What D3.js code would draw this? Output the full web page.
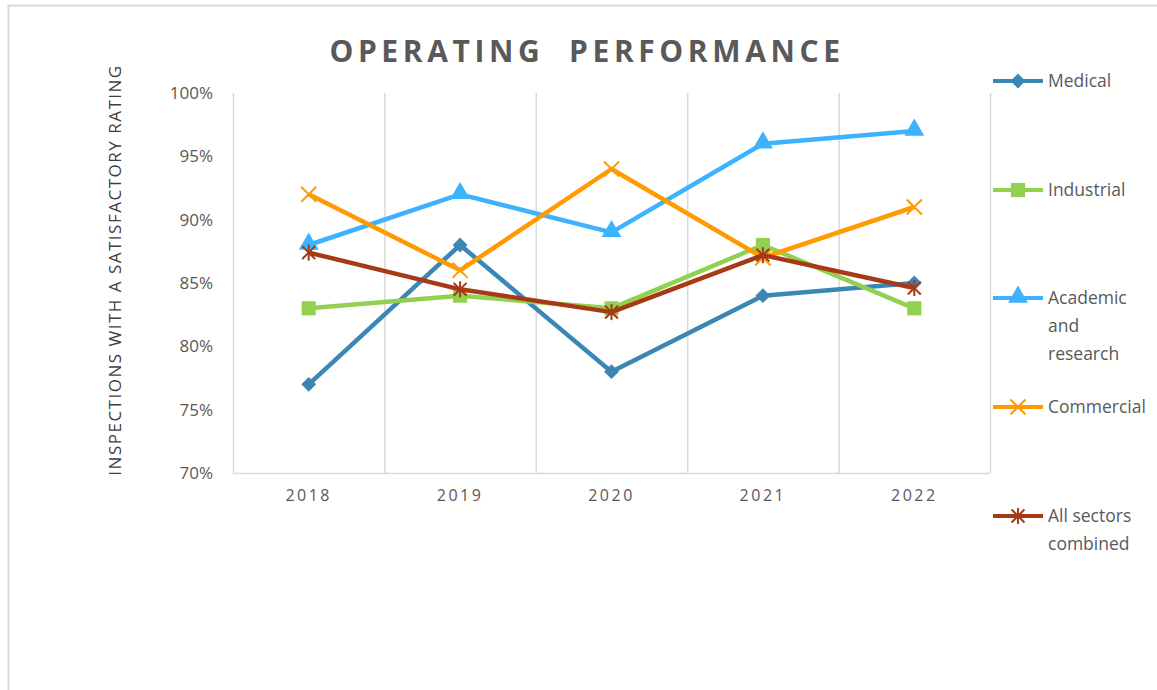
<!DOCTYPE html>
<html>
<head>
<meta charset="utf-8">
<script src="https://cdn.jsdelivr.net/npm/d3@7"></script>
<style>
  body { margin: 0; background: #fff; }
  svg { display: block; font-family: "Open Sans", "Liberation Sans", sans-serif; }
</style>
</head>
<body>
<svg id="chart" width="1157" height="690"></svg>
<script>
// chart data
var years = ["2018", "2019", "2020", "2021", "2022"];
var medical = [77, 88, 78, 84, 85];
var industrial = [83, 84, 83, 88, 83];
var academic = [88, 92, 89, 96, 97];
var commercial = [92, 86, 94, 87, 91];
var allSectors = [87.4, 84.5, 82.7, 87.2, 84.6];
var yTicks = [70, 75, 80, 85, 90, 95, 100];

var series = [
  {name: ["Medical"], values: medical, color: "#3a87b5", marker: "diamond", ly: 81},
  {name: ["Industrial"], values: industrial, color: "#92d050", marker: "square", ly: 190},
  {name: ["Academic", "and", "research"], values: academic, color: "#3db2ff", marker: "triangle", ly: 298},
  {name: ["Commercial"], values: commercial, color: "#ff9a00", marker: "x", ly: 407},
  {name: ["All sectors", "combined"], values: allSectors, color: "#a63a17", marker: "star", ly: 516}
];

var chart = d3.select("#chart");
// plot area edges (note: "top" is taken by window.top, so use other names)
var plotLeft = 233, plotRight = 990, plotTop = 93, plotBottom = 473;

// outer frame
chart.append("rect")
  .attr("x", 8.5).attr("y", 5.5)
  .attr("width", 1160).attr("height", 700)
  .attr("fill", "none").attr("stroke", "#d9d9d9").attr("stroke-width", 2);

var x = d3.scaleBand().domain(years).range([plotLeft, plotRight]);
var y = d3.scaleLinear().domain([70, 100]).range([plotBottom, plotTop]);

// vertical gridlines between categories
var bounds = years.map(function(d) { return x(d); }).concat([plotRight]);
chart.append("g").selectAll("line")
  .data(bounds)
  .enter().append("line")
  .attr("x1", function(d) { return d + 0.5; })
  .attr("x2", function(d) { return d + 0.5; })
  .attr("y1", plotTop).attr("y2", plotBottom)
  .attr("stroke", "#d9d9d9").attr("stroke-width", 1.5);

// bottom axis line
chart.append("line")
  .attr("x1", plotLeft).attr("x2", plotRight)
  .attr("y1", plotBottom + 0.5).attr("y2", plotBottom + 0.5)
  .attr("stroke", "#d9d9d9").attr("stroke-width", 1.5);

// y axis labels
var yAxis = chart.append("g")
  .attr("transform", "translate(" + (plotLeft - 20) + ",0)")
  .call(d3.axisLeft(y).tickValues(yTicks).tickSize(0).tickPadding(0)
    .tickFormat(function(d) { return d + "%"; }));
yAxis.select(".domain").remove();
yAxis.selectAll("text")
  .attr("fill", "#595959").style("font-size", "17px")
  .style("font-family", "'Open Sans', sans-serif");

// x axis labels
var xAxis = chart.append("g")
  .attr("transform", "translate(0," + (plotBottom + 17) + ")")
  .call(d3.axisBottom(x).tickSize(0).tickPadding(0));
xAxis.select(".domain").remove();
xAxis.selectAll("text")
  .attr("fill", "#595959").style("font-size", "16px")
  .style("letter-spacing", "2.5px")
  .style("font-family", "'Open Sans', sans-serif");

// title
chart.append("text")
  .attr("x", 587).attr("y", 62)
  .attr("text-anchor", "middle")
  .attr("fill", "#595959")
  .style("font-size", "30px").style("font-weight", "bold")
  .style("letter-spacing", "4.6px")
  .attr("xml:space", "preserve")
  .text("OPERATING  PERFORMANCE");

// y axis title
chart.append("text")
  .attr("transform", "translate(121,270) rotate(-90)")
  .attr("text-anchor", "middle")
  .attr("fill", "#404040")
  .style("font-size", "17px")
  .style("letter-spacing", "1.5px")
  .text("INSPECTIONS WITH A SATISFACTORY RATING");

function drawMarker(g, type, color, cx, cy) {
  if (type === "diamond") {
    g.append("path").attr("d", d3.symbol(d3.symbolSquare, 110)())
      .attr("transform", "translate(" + cx + "," + cy + ") rotate(45)").attr("fill", color);
  } else if (type === "square") {
    g.append("path").attr("d", d3.symbol(d3.symbolSquare, 200)())
      .attr("transform", "translate(" + cx + "," + cy + ")").attr("fill", color);
  } else if (type === "triangle") {
    g.append("path").attr("d", d3.symbol(d3.symbolTriangle, 170)())
      .attr("transform", "translate(" + cx + "," + (cy - 1) + ")").attr("fill", color);
  } else if (type === "x") {
    g.append("path").attr("d", d3.symbol(d3.symbolTimes, 150)())
      .attr("transform", "translate(" + cx + "," + cy + ")")
      .attr("fill", "none").attr("stroke", color).attr("stroke-width", 2);
  } else if (type === "star") {
    g.append("path").attr("d", d3.symbol(d3.symbolTimes, 110)())
      .attr("transform", "translate(" + cx + "," + cy + ")")
      .attr("fill", "none").attr("stroke", color).attr("stroke-width", 2);
    g.append("line")
      .attr("x1", cx).attr("x2", cx).attr("y1", cy - 8).attr("y2", cy + 8)
      .attr("stroke", color).attr("stroke-width", 2);
  }
}

var line = d3.line()
  .x(function(d, i) { return x(years[i]) + x.bandwidth() / 2; })
  .y(function(d) { return y(d); });

series.forEach(function(s) {
  var g = chart.append("g");
  g.append("path")
    .datum(s.values)
    .attr("d", line)
    .attr("fill", "none")
    .attr("stroke", s.color)
    .attr("stroke-width", 4.5)
    .attr("stroke-linejoin", "round");
  s.values.forEach(function(v, i) {
    drawMarker(g, s.marker, s.color, x(years[i]) + x.bandwidth() / 2, y(v));
  });

  // legend entry
  var lg = chart.append("g");
  lg.append("line")
    .attr("x1", 993).attr("x2", 1043)
    .attr("y1", s.ly).attr("y2", s.ly)
    .attr("stroke", s.color).attr("stroke-width", 4);
  drawMarker(lg, s.marker, s.color, 1018, s.ly);
  s.name.forEach(function(t, k) {
    lg.append("text")
      .attr("x", 1048).attr("y", s.ly + 6 + k * 28)
      .attr("fill", "#595959")
      .style("font-size", "17.5px")
      .text(t);
  });
});
</script>
</body>
</html>
